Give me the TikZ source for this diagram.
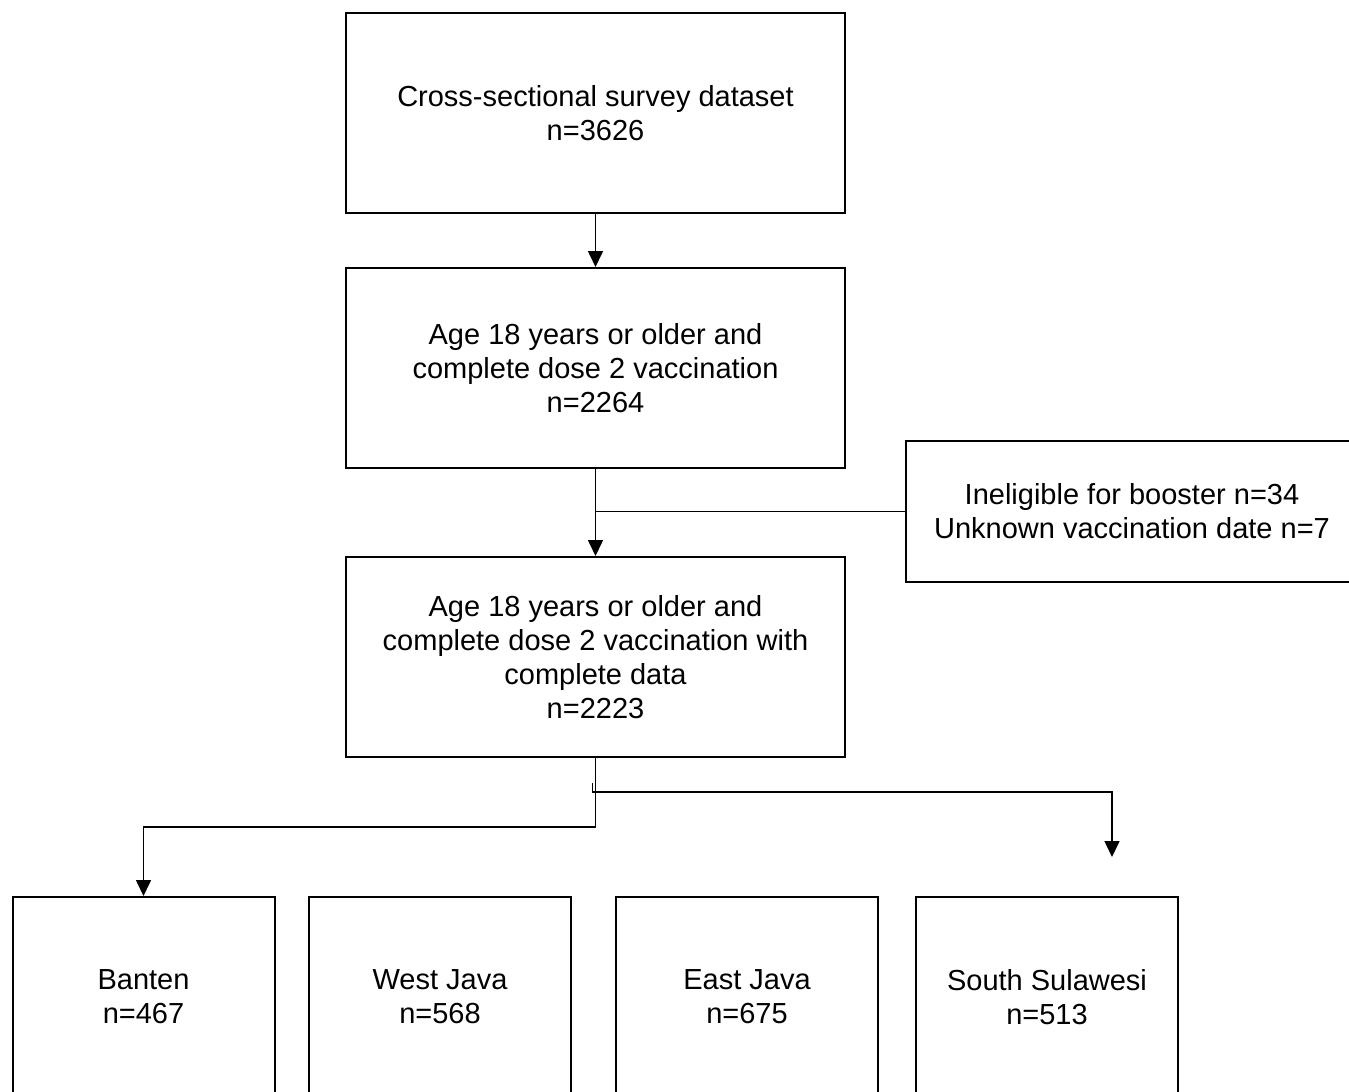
\documentclass[tikz,border=0pt]{standalone}
\usepackage{fontspec}
\setmainfont{Liberation Sans}
\usepackage{tikz}
\usetikzlibrary{arrows.meta,positioning}

\begin{document}
\begin{tikzpicture}[
        x=0.5pt, y=-0.5pt,
        every node/.style={font=\fontsize{14.5}{17}\selectfont},
        flowbox/.style={draw, line width=1pt, minimum width=249.5pt, minimum height=100pt, align=center, inner sep=0pt},
        sitebox/.style={draw, line width=1pt, minimum width=131pt, minimum height=100pt, align=center, inner sep=0pt},
        exclbox/.style={draw, line width=1pt, minimum width=226pt, minimum height=70.5pt, align=center, inner sep=0pt},
        link/.style={line width=0.8pt},
        arr/.style={line width=0.8pt, -{Triangle[length=8pt, width=7.5pt]}}
      ]
      \useasboundingbox (0,0) rectangle (1349,1092);
      \node[flowbox] (survey) at (595.5,113) {Cross-sectional survey dataset\\n=3626};
      \node[flowbox] (elig) at (595.5,368) {Age 18 years or older and\\complete dose 2 vaccination\\n=2264};
      \node[flowbox] (complete) at (595.5,657) {Age 18 years or older and\\complete dose 2 vaccination with\\complete data\\n=2223};
      \node[exclbox] (excl) at (1132,511.5) {Ineligible for booster n=34\\Unknown vaccination date n=7};

      \node[sitebox] (banten) at (143.5,997) {Banten\\n=467};
      \node[sitebox] (westjava) at (440,997) {West Java\\n=568};
      \node[sitebox] (eastjava) at (747,997) {East Java\\n=675};
      \node[sitebox] (sulawesi) at (1047,997) {South Sulawesi\\n=513};

      \draw[arr] (survey) -- (elig);
      \draw[arr] (elig) -- (complete);
      \draw[link] (excl.west) -- (excl.west -| elig.south);

      % split into the provinces
      \coordinate (split) at (595.5,827);
      \coordinate (tick) at (592.5,783);
      \coordinate (rbranch) at (592.5,792);
      \coordinate (rightend) at (1112,857);
      \draw[arr] (complete.south) -- (split) -| (banten.north);
      \draw[arr] (tick) -- (rbranch) -| (rightend);
    \end{tikzpicture}
\end{document}
